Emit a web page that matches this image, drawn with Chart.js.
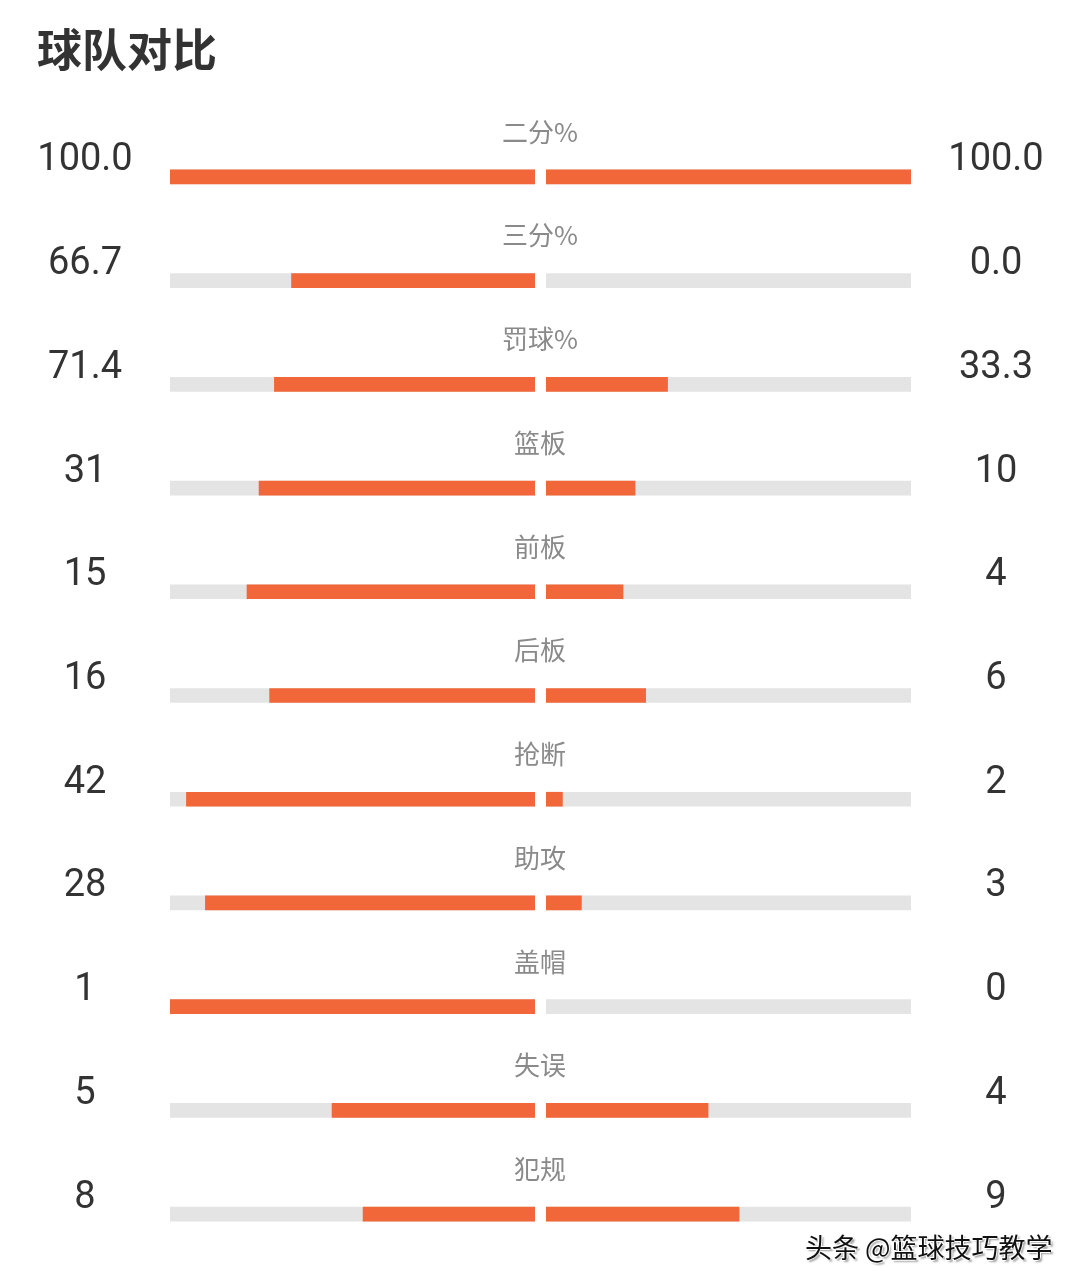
<!DOCTYPE html>
<html lang="zh">
<head>
<meta charset="utf-8">
<title>球队对比</title>
<script src="https://cdn.jsdelivr.net/npm/chart.js@4.4.1/dist/chart.umd.min.js"></script>
<style>
    html, body { margin: 0; padding: 0; background: #fff; }
    #wrap { position: relative; width: 1080px; height: 1285px; overflow: hidden; background: #fff; }
    #wrap canvas { position: absolute; left: 0; top: 0; }
    .title {
        position: absolute; left: 37px; top: 23px;
        font: bold 45px/50px "Noto Sans CJK SC", sans-serif; color: #333;
    }
    .mark {
        position: absolute; left: 805px; top: 1231px;
        font: 27px/32px "Noto Sans CJK SC", sans-serif; color: #111;
        text-shadow: -1px -1px 0 #fff, 1px -1px 0 #fff, -1px 1px 0 #fff, 2px 2px 2px rgba(0,0,0,0.4);
        white-space: nowrap;
    }
</style>
</head>
<body>
<div id="wrap">
    <canvas id="chart-left" width="1080" height="1285"></canvas>
    <canvas id="chart-right" width="1080" height="1285"></canvas>
    <div class="title">球队对比</div>
    <div class="mark">头条 @篮球技巧教学</div>
</div>
<script>
// ---------------------------------------------------------
// Data
// ---------------------------------------------------------
const categories  = ['二分%', '三分%', '罚球%', '篮板', '前板', '后板', '抢断', '助攻', '盖帽', '失误', '犯规'];
const leftValues  = ['100.0', '66.7', '71.4', '31', '15', '16', '42', '28', '1', '5', '8'];
const rightValues = ['100.0', '0.0', '33.3', '10', '4', '6', '2', '3', '0', '4', '9'];
// bar length in % of the track
const leftBar  = [100, 66.7, 71.4, 75.6, 78.9, 72.7, 95.5, 90.3, 100, 55.6, 47.1];
const rightBar = [100, 0, 33.3, 24.4, 21.1, 27.3, 4.5, 9.7, 0, 44.4, 52.9];
const track    = [100, 100, 100, 100, 100, 100, 100, 100, 100, 100, 100];

const ORANGE = '#f1673a';
const GREY   = '#e4e4e4';

// ---------------------------------------------------------
// Text plugin (labels + values, placed on the y scale)
// ---------------------------------------------------------
function textPlugin(side) {
    return {
        id: 'text-' + side,
        afterDatasetsDraw(chart) {
            const ctx = chart.ctx;
            const y = chart.scales.y;
            ctx.save();
            ctx.textAlign = 'center';
            ctx.textBaseline = 'middle';
            categories.forEach((c, i) => {
                const py = y.getPixelForValue(i);
                if (side === 'left') {
                    ctx.fillStyle = '#8a8a8a';
                    ctx.font = '26px "Noto Sans CJK SC", sans-serif';
                    ctx.fillText(c, 540, py - 45);
                    ctx.fillStyle = '#333';
                    ctx.font = '38px Roboto, "Noto Sans", sans-serif';
                    ctx.fillText(leftValues[i], 85, py - 16);
                } else {
                    ctx.fillStyle = '#333';
                    ctx.font = '38px Roboto, "Noto Sans", sans-serif';
                    ctx.fillText(rightValues[i], 996, py - 16);
                }
            });
            ctx.restore();
        }
    };
}

function makeChart(id, side, values, padding) {
    return new Chart(document.getElementById(id), {
        type: 'bar',
        data: {
            labels: categories,
            datasets: [
                {
                    data: values, barThickness: 14, grouped: false, order: 0,
                    backgroundColor: c => (c.raw ? ORANGE : 'rgba(0,0,0,0)'),
                },
                { data: track, backgroundColor: GREY, barThickness: 14, grouped: false, order: 1 },
            ]
        },
        options: {
            indexAxis: 'y',
            responsive: false,
            animation: false,
            layout: { padding },
            plugins: { legend: { display: false }, tooltip: { enabled: false } },
            scales: {
                x: { display: false, min: 0, max: 100, reverse: side === 'left' },
                y: { display: false, offset: true, grid: { display: false } },
            },
        },
        plugins: [textPlugin(side)],
    });
}

makeChart('chart-left',  'left',  leftBar,  { left: 170, right: 545, top: 125, bottom: 19 });
makeChart('chart-right', 'right', rightBar, { left: 546, right: 169, top: 125, bottom: 19 });
</script>
</body>
</html>
